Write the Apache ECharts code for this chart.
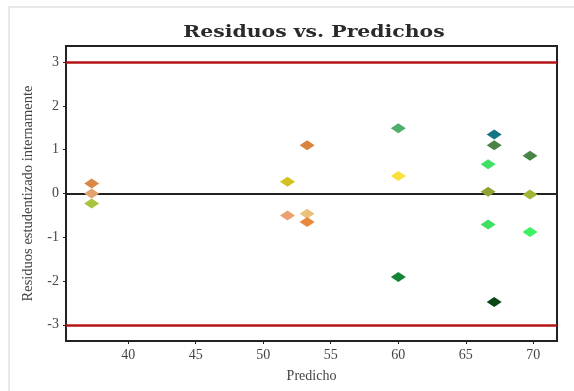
<!DOCTYPE html>
<html>
<head>
<meta charset="utf-8">
<script src="https://cdn.jsdelivr.net/npm/echarts@6/dist/echarts.min.js"></script>
<style>html,body{margin:0;padding:0;background:#fff;}#c{width:574px;height:391px;}</style>
</head>
<body>
<div id="c"></div>
<script>
const predicho = [37.3, 37.3, 37.3, 51.8, 51.8, 53.25, 53.25, 53.25, 60.0, 60.0, 60.0, 66.65, 66.65, 66.65, 67.1, 67.1, 67.1, 69.75, 69.75, 69.75];
const residuos = [0.23, 0.0, -0.23, 0.27, -0.5, 1.1, -0.46, -0.65, 1.49, 0.40, -1.91, 0.67, 0.04, -0.71, 1.35, 1.1, -2.48, 0.86, -0.02, -0.88];
const palette = ['#d8894a', '#e3a36e', '#a9c23f', '#d2c21e', '#eba072', '#d7843f', '#ebc27c', '#e8873e', '#4fae6c', '#fde03c', '#138636', '#3fe064', '#8fa232', '#3ee05f', '#147585', '#4b8444', '#0a4514', '#4a8446', '#a3b537', '#3df25f'];
const xTicks = [40, 45, 50, 55, 60, 65, 70];
const yTicks = [-3, -2, -1, 0, 1, 2, 3];
const refLines = [3, -3];
const titleText = 'Residuos vs. Predichos';

const chart = echarts.init(document.getElementById('c'));
const pts = predicho.map((x, i) => ({ value: [x, residuos[i]], itemStyle: { color: palette[i] } }));
const serif = 'Liberation Serif';
chart.setOption({
  animation: false,
  backgroundColor: '#fff',
  graphic: [{
    type: 'rect', silent: true, z: -10,
    shape: { x: 9, y: 7, width: 600, height: 420 },
    style: { fill: 'none', stroke: '#e2e2e2', lineWidth: 1.5 }
  }, {
    type: 'text', silent: true, x: 314, y: 33, scaleX: 1.2,
    style: {
      text: titleText, fill: '#2a2a2a',
      font: 'bold 17px "DejaVu Serif"',
      textAlign: 'center', textVerticalAlign: 'middle'
    }
  }],
  grid: { left: 66, right: 17, top: 46, bottom: 50, show: true, borderColor: '#222', borderWidth: 2, backgroundColor: '#fff' },
  xAxis: {
    type: 'value', min: 35.4, max: 71.75,
    splitLine: { show: false },
    axisLine: { show: true, onZero: false, lineStyle: { color: '#222', width: 2 } },
    axisTick: { show: true, customValues: xTicks, length: 3, lineStyle: { color: '#222' } },
    axisLabel: { customValues: xTicks, fontFamily: serif, fontSize: 14, color: '#444', margin: 7 },
    name: 'Predicho', nameLocation: 'middle', nameGap: 28,
    nameTextStyle: { fontFamily: serif, fontSize: 14, color: '#444' }
  },
  yAxis: {
    type: 'value', min: -3.37, max: 3.37,
    splitLine: { show: false },
    axisLine: { show: true, onZero: false, lineStyle: { color: '#222', width: 2 } },
    axisTick: { show: true, customValues: yTicks, length: 3, lineStyle: { color: '#222' } },
    axisLabel: { customValues: yTicks, fontFamily: serif, fontSize: 14, color: '#444', margin: 7 },
    name: 'Residuos estudentizado internamente', nameLocation: 'middle', nameGap: 30, nameRotate: 90,
    nameTextStyle: { fontFamily: serif, fontSize: 14.5, color: '#444' }
  },
  series: [{
    type: 'scatter',
    symbol: 'diamond',
    symbolSize: [15, 10],
    itemStyle: { opacity: 1 },
    data: pts,
    z: 5,
    markLine: {
      silent: true, symbol: 'none', label: { show: false }, z: 3,
      data: [
        { yAxis: 0, lineStyle: { color: '#222', width: 2, type: 'solid' } },
        ...refLines.map(v => ({ yAxis: v, lineStyle: { color: '#b41414', width: 2.5, type: 'solid' } }))
      ]
    }
  }]
});
</script>
</body>
</html>
